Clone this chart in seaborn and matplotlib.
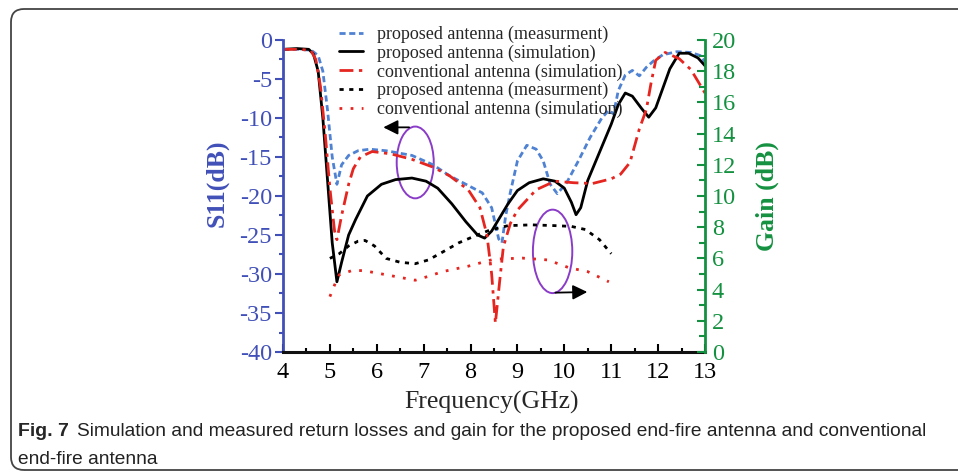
import matplotlib as mpl
import matplotlib.pyplot as plt
import numpy as np
import pandas as pd
import seaborn as sns
from matplotlib.patches import Ellipse, FancyBboxPatch

sns.set_style("ticks")
plt.rcParams['font.family'] = ['Liberation Serif', 'DejaVu Serif']
plt.rcParams['axes.unicode_minus'] = False

# S11 curves (left axis, dB)
f_pm = [4.0, 4.3, 4.6, 4.75, 4.85, 4.95, 5.05, 5.15, 5.25, 5.4, 5.6, 5.85, 6.2, 6.75, 7.2,
        7.55, 7.9, 8.25, 8.45, 8.6, 8.67, 8.75, 8.85, 9.0, 9.2, 9.4, 9.55, 9.7, 9.85, 10.05,
        10.3, 10.55, 10.8, 10.95, 11.05, 11.15, 11.3, 11.45, 11.6, 11.75, 11.9, 12.1, 12.4,
        12.7, 12.9, 13.0]
s11_pm = [-1.2, -1.2, -1.3, -2.0, -4.0, -9.0, -15.0, -18.5, -16.0, -14.8, -14.2, -14.0, -14.2,
          -14.8, -16.0, -17.4, -18.5, -19.6, -21.5, -25.5, -26.0, -22.5, -19.5, -15.5, -13.5,
          -14.0, -15.5, -18.5, -19.7, -18.3, -15.5, -12.5, -10.0, -9.0, -9.5, -6.5, -4.5, -3.9,
          -4.6, -3.5, -2.7, -1.9, -1.5, -1.6, -2.0, -2.8]

f_ps = [4.0, 4.3, 4.55, 4.65, 4.75, 4.85, 4.95, 5.05, 5.15, 5.25, 5.4, 5.55, 5.8, 6.1, 6.4,
        6.75, 7.05, 7.3, 7.6, 7.9, 8.15, 8.3, 8.45, 8.6, 8.8, 9.0, 9.25, 9.55, 9.8, 10.0, 10.15,
        10.25, 10.35, 10.5, 10.75, 11.0, 11.15, 11.3, 11.45, 11.65, 11.8, 11.95, 12.1, 12.25,
        12.45, 12.65, 12.85, 13.0]
s11_ps = [-1.2, -1.1, -1.2, -1.8, -4.0, -10.0, -18.0, -26.0, -31.0, -28.5, -25.0, -23.0, -20.0,
          -18.5, -17.9, -17.7, -18.1, -19.0, -21.0, -23.3, -25.0, -25.4, -24.5, -23.0, -21.0,
          -19.3, -18.3, -17.8, -18.1, -19.0, -20.8, -22.4, -21.5, -18.0, -14.4, -10.8, -8.3,
          -6.8, -7.2, -8.8, -9.9, -8.7, -6.2, -3.7, -1.7, -1.7, -2.3, -3.3]

f_cs = [4.0, 4.4, 4.6, 4.7, 4.8, 4.9, 5.0, 5.1, 5.15, 5.25, 5.4, 5.5, 5.65, 5.9, 6.3, 6.75,
        7.2, 7.55, 7.95, 8.2, 8.35, 8.45, 8.53, 8.62, 8.7, 8.85, 9.0, 9.4, 9.8, 10.2, 10.6,
        11.0, 11.2, 11.4, 11.6, 11.75, 11.85, 11.95, 12.15, 12.45, 12.7, 12.9, 13.0]
s11_cs = [-1.2, -1.2, -1.4, -2.5, -6.0, -12.0, -19.0, -24.5, -25.6, -22.5, -18.5, -16.5, -15.0,
          -14.3, -14.6, -15.3, -16.3, -17.4, -19.2, -21.5, -25.0, -30.0, -36.3, -31.0, -26.5,
          -23.5, -21.8, -19.2, -18.1, -18.3, -18.4, -17.8, -17.2, -15.7, -11.4, -8.9, -5.5,
          -2.6, -1.6, -2.4, -3.8, -5.8, -6.8]

# Gain curves (right axis, dB)
f_pg = [5.0, 5.2, 5.4, 5.6, 5.75, 5.95, 6.2, 6.5, 6.82, 7.1, 7.4, 7.75, 8.1, 8.4, 8.8, 9.3,
        9.8, 10.15, 10.45, 10.75, 11.0]
gain_pm = [6.0, 6.3, 6.8, 7.1, 7.15, 6.8, 6.0, 5.75, 5.66, 5.9, 6.4, 7.0, 7.45, 7.8, 8.1, 8.15,
           8.1, 8.05, 7.85, 7.2, 6.3]

f_cg = [5.0, 5.1, 5.2, 5.5, 5.75, 6.2, 6.82, 7.1, 7.4, 7.95, 8.5, 9.1, 9.65, 10.1, 10.5, 10.95]
gain_cs = [3.55, 4.3, 4.95, 5.25, 5.2, 4.95, 4.6, 4.85, 5.15, 5.5, 5.95, 6.02, 5.9, 5.4, 5.15, 4.5]

labels = ['proposed antenna (measurment)', 'proposed antenna (simulation)',
          'conventional antenna (simulation)', 'proposed antenna (measurment)',
          'conventional antenna (simulation)']

blue_ax = '#4150B8'
green_ax = '#149140'
blue_ln = '#4F82D2'
red_ln = '#E5251F'

fig = plt.figure(figsize=(9.58, 4.76), dpi=100)
ax = fig.add_subplot(111)
fig.subplots_adjust(left=0.2954, right=0.7359, top=0.916, bottom=0.2605)
ax2 = ax.twinx()

sns.lineplot(x=f_pm, y=s11_pm, ax=ax, color=blue_ln, lw=2, linestyle=(0, (2.2, 1.3)),
             sort=False, estimator=None)
sns.lineplot(x=f_ps, y=s11_ps, ax=ax, color='black', lw=2, sort=False, estimator=None)
sns.lineplot(x=f_cs, y=s11_cs, ax=ax, color=red_ln, lw=2, linestyle=(0, (5, 2, 1.2, 2)),
             sort=False, estimator=None)
sns.lineplot(x=f_pg, y=gain_pm, ax=ax2, color='black', lw=2, linestyle=(0, (1.5, 2)),
             sort=False, estimator=None)
sns.lineplot(x=f_cg, y=gain_cs, ax=ax2, color=red_ln, lw=2, linestyle=(0, (1, 3)),
             sort=False, estimator=None)

ax.set_xlim(4, 13)
ax.set_ylim(-40, 0)
ax2.set_ylim(0, 20)
ax.set_xticks(range(4, 14))
ax.xaxis.set_minor_locator(mpl.ticker.MultipleLocator(0.5))
ax.set_yticks(range(-40, 1, 5))
ax.yaxis.set_minor_locator(mpl.ticker.MultipleLocator(2.5))
ax2.set_yticks(range(0, 21, 2))
ax2.yaxis.set_minor_locator(mpl.ticker.MultipleLocator(1))

ax.tick_params(axis='x', which='both', direction='in', labelsize=17.5, pad=7, width=1.5,
               colors='black')
ax.tick_params(axis='x', which='major', length=6)
ax.tick_params(axis='x', which='minor', length=3)
ax.tick_params(axis='y', which='both', direction='out', colors=blue_ax, labelsize=17.5, width=1.5,
               pad=2)
ax.tick_params(axis='y', which='major', length=6)
ax.tick_params(axis='y', which='minor', length=3)
ax2.tick_params(axis='y', which='both', direction='in', colors=green_ax, labelsize=17.5,
                width=1.5, pad=5)
ax2.tick_params(axis='y', which='major', length=6)
ax2.tick_params(axis='y', which='minor', length=4)

for a in (ax, ax2):
    a.spines['top'].set_visible(False)
ax.spines['right'].set_visible(False)
ax2.spines['left'].set_visible(False)
ax2.spines['bottom'].set_visible(False)
ax.spines['left'].set_color(blue_ax)
ax.spines['left'].set_linewidth(2)
ax.spines['bottom'].set_linewidth(2.2)
ax.spines['bottom'].set_color('#111111')
ax2.spines['right'].set_color(green_ax)
ax2.spines['right'].set_linewidth(2)

ax.set_xlabel('Frequency(GHz)', fontsize=18.5)
ax.xaxis.set_label_coords(0.495, -0.125)
ax.set_ylabel('S11(dB)', fontsize=18.5, fontweight='bold', color=blue_ax)
ax.yaxis.set_label_coords(-0.13, 0.54)
ax2.set_ylabel('Gain (dB)', fontsize=18.5, fontweight='bold', color=green_ax)
ax2.yaxis.set_label_coords(1.12, 0.5)

# ellipses and arrows
ax.add_patch(Ellipse((6.82, -15.7), 0.79, 9.2, fill=False, ec='#8A3CC8', lw=1.4))
ax.add_patch(Ellipse((9.75, -27.1), 0.84, 10.7, fill=False, ec='#8A3CC8', lw=1.4))
ax.annotate('', xy=(6.08, -11.2), xytext=(6.75, -11.2),
            arrowprops=dict(arrowstyle='-|>', color='black', lw=1.3, mutation_scale=22))
ax.annotate('', xy=(10.55, -32.3), xytext=(9.75, -32.4),
            arrowprops=dict(arrowstyle='-|>', color='black', lw=1.3, mutation_scale=22))

handles = ax.get_lines()[:3] + ax2.get_lines()[:2]
fig.legend(handles, labels, loc='upper left', bbox_to_anchor=(0.346, 0.961), frameon=False,
           fontsize=13, handlelength=1.35, handletextpad=0.75, labelspacing=0.08,
           borderaxespad=0)

# caption
cap_font = ['Liberation Sans', 'DejaVu Sans']
fig.text(18 / 958, 1 - 432 / 476, 'Fig. 7', family=cap_font, fontweight='bold', fontsize=14,
         va='center')
fig.text(77 / 958, 1 - 432 / 476,
         'Simulation and measured return losses and gain for the proposed end-fire antenna and conventional',
         family=cap_font, fontsize=13.8, va='center', color='#222222')
fig.text(18 / 958, 1 - 459 / 476, 'end-fire antenna', family=cap_font, fontsize=13.8,
         va='center', color='#222222')

frame = FancyBboxPatch((0.11, 0.06), 9.7, 4.61, boxstyle='round,pad=0,rounding_size=0.13',
                       transform=fig.dpi_scale_trans, fill=False, ec='#444444', lw=1.3)
fig.add_artist(frame)

fig.savefig('out.png', dpi=100)
